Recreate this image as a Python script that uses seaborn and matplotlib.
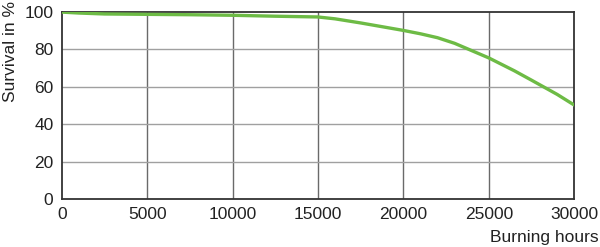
import matplotlib
matplotlib.use("Agg")
import matplotlib.pyplot as plt
import seaborn as sns
import pandas as pd

hours = [0, 1000, 2500, 5000, 7500, 10000, 12500, 15000, 16000, 17500, 19000, 20000, 21000, 22000, 23000, 24000, 25000, 26500, 27500, 29000, 30000]
survival = [100, 99.5, 99.0, 98.8, 98.6, 98.3, 97.8, 97.4, 96.4, 94.2, 91.8, 90.2, 88.4, 86.3, 83.3, 79.4, 75.5, 68.6, 63.6, 56.0, 50.3]
x_ticks = [0, 5000, 10000, 15000, 20000, 25000, 30000]
y_ticks = [0, 20, 40, 60, 80, 100]

sns.set_theme(style="white")
plt.rcParams['font.family'] = ['Liberation Sans', 'DejaVu Sans']

df = pd.DataFrame({"hours": hours, "survival": survival})
fig = plt.figure(figsize=(6.0, 2.47), dpi=100)
ax = fig.add_axes([0.103, 0.194, 0.854, 0.757])

for x in x_ticks[1:-1]:
    ax.axvline(x, color="#6a6a6a", lw=1.0, zorder=1)
for y in y_ticks[1:-1]:
    ax.axhline(y, color="#a0a0a0", lw=1.0, zorder=1)

sns.lineplot(data=df, x="hours", y="survival", ax=ax, color="#6dbb45", lw=2.4, zorder=3)

ax.set_xlim(0, 30000)
ax.set_ylim(0, 100)
ax.set_xticks(x_ticks)
ax.set_yticks(y_ticks)
ax.set_xticklabels([str(v) for v in x_ticks])
ax.set_yticklabels([str(v) for v in y_ticks])
ax.tick_params(axis="both", length=0, labelsize=12.5, colors="#222222", pad=6)
for s in ax.spines.values():
    s.set_color("#333333")
    s.set_linewidth(1.3)
ax.set_xlabel("")
ax.set_ylabel("")
fig.text(0.997, 0.01, "Burning hours", ha="right", va="bottom", fontsize=12.5, color="#222222")
fig.text(0.005, 0.995, "Survival in %", rotation=90, ha="left", va="top", fontsize=12.5, color="#222222")

fig.savefig("out.png", dpi=100)
